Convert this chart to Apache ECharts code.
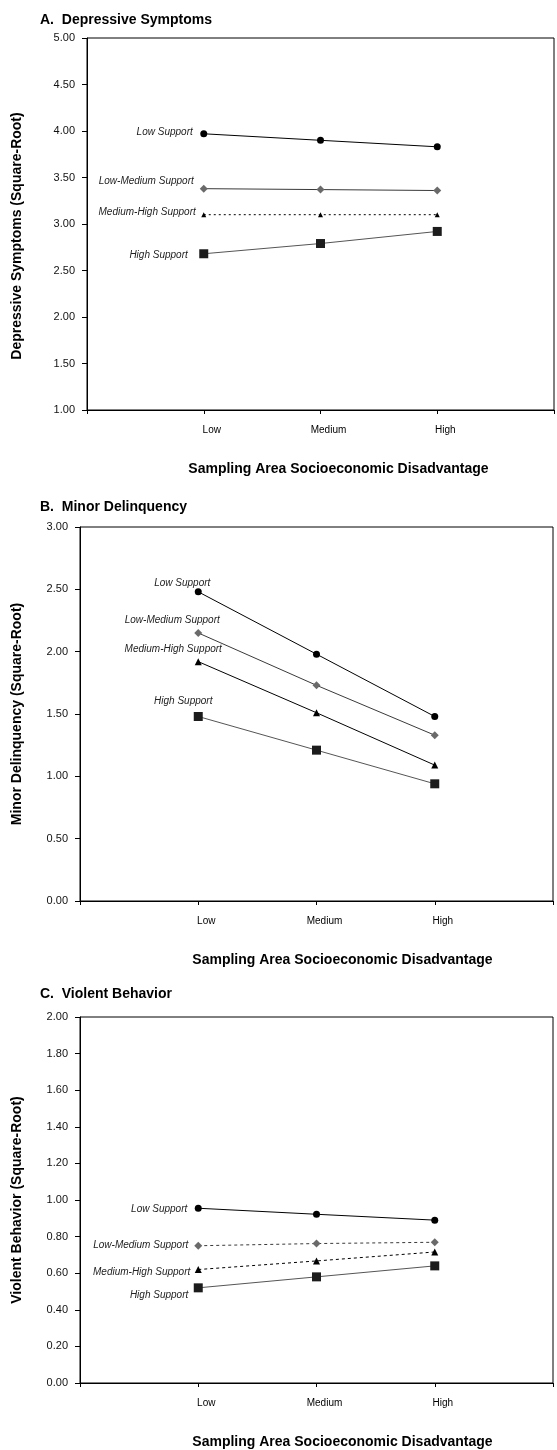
<!DOCTYPE html>
<html>
<head>
<meta charset="utf-8">
<script src="https://cdn.jsdelivr.net/npm/echarts@6/dist/echarts.min.js"></script>
<style>
html, body { margin: 0; padding: 0; background: #fff; }
#main { width: 557px; height: 1450px; }
</style>
</head>
<body>
<div id="main"></div>
<script>
// categories on the x axis and the four support groups
const categories = ['Low', 'Medium', 'High']
const groups = ['Low Support', 'Low-Medium Support', 'Medium-High Support', 'High Support']

// A. Depressive Symptoms
const depLow = [3.97, 3.90, 3.83]
const depLowMed = [3.38, 3.37, 3.36]
const depMedHigh = [3.10, 3.10, 3.10]
const depHigh = [2.68, 2.79, 2.92]

// B. Minor Delinquency
const delLow = [2.48, 1.98, 1.48]
const delLowMed = [2.15, 1.73, 1.33]
const delMedHigh = [1.92, 1.51, 1.09]
const delHigh = [1.48, 1.21, 0.94]

// C. Violent Behavior
const vioLow = [0.955, 0.922, 0.89]
const vioLowMed = [0.75, 0.762, 0.769]
const vioMedHigh = [0.62, 0.667, 0.716]
const vioHigh = [0.52, 0.58, 0.64]

const panelTitles = ['A.  Depressive Symptoms', 'B.  Minor Delinquency', 'C.  Violent Behavior']
const yNames = ['Depressive Symptoms (Square-Root)', 'Minor Delinquency (Square-Root)', 'Violent Behavior (Square-Root)']
const xName = 'Sampling Area Socioeconomic Disadvantage'

const font = 'Liberation Sans, Arial, sans-serif'

var chart = echarts.init(document.getElementById('main'))

const grids = [
    { left: 87, top: 38, width: 475, height: 372 },
    { left: 80, top: 527, width: 473, height: 374 },
    { left: 80, top: 1017, width: 473, height: 371 }
]
const yRanges = [
    { min: 1, max: 5, interval: 0.5 },
    { min: 0, max: 3, interval: 0.5 },
    { min: 0, max: 2, interval: 0.2 }
]
const titleTops = [8, 495, 982]

// marker + line look for each group
const looks = [
    { symbol: 'circle', symbolSize: 7, color: '#000', line: '#000' },
    { symbol: 'diamond', symbolSize: 8, color: '#6a6a6a', line: '#3a3a3a' },
    { symbol: 'triangle', symbolSize: 7, color: '#000', line: '#000' },
    { symbol: 'rect', symbolSize: 9, color: '#1c1c1c', line: '#555' }
]

function makeSeries(panel, gi, values, opts) {
    const look = looks[gi]
    const data = values.map((v, i) => [i + 1, v])
    const first = {
        value: data[0],
        label: {
            show: true,
            position: 'inside',
            formatter: groups[gi],
            align: opts.align || 'right',
            offset: opts.offset,
            fontFamily: font,
            fontStyle: 'italic',
            fontSize: 10,
            color: '#222'
        }
    }
    return {
        type: 'line',
        xAxisIndex: panel,
        yAxisIndex: panel,
        data: [first].concat(data.slice(1)),
        symbol: look.symbol,
        symbolSize: opts.symbolSize || look.symbolSize,
        showAllSymbol: true,
        animation: false,
        itemStyle: { color: look.color },
        lineStyle: {
            color: look.line,
            width: 1,
            type: opts.dash || 'solid'
        },
        emphasis: { disabled: true },
        z: 3
    }
}

const series = [
    makeSeries(0, 0, depLow, { offset: [-11, -2] }),
    makeSeries(0, 1, depLowMed, { offset: [-10, -7] }),
    makeSeries(0, 2, depMedHigh, { offset: [-8, -2], dash: [2, 3], symbolSize: 5 }),
    makeSeries(0, 3, depHigh, { offset: [-16, 1] }),

    makeSeries(1, 0, delLow, { offset: [-16, -9], align: 'center' }),
    makeSeries(1, 1, delLowMed, { offset: [-26, -13], align: 'center' }),
    makeSeries(1, 2, delMedHigh, { offset: [-25, -12], align: 'center' }),
    makeSeries(1, 3, delHigh, { offset: [-15, -15], align: 'center' }),

    makeSeries(2, 0, vioLow, { offset: [-11, 1] }),
    makeSeries(2, 1, vioLowMed, { offset: [-10, -1], dash: [3, 3] }),
    makeSeries(2, 2, vioMedHigh, { offset: [-8, 3], dash: [3, 3] }),
    makeSeries(2, 3, vioHigh, { offset: [-10, 7] })
]

const xAxes = grids.map((g, i) => ({
    gridIndex: i,
    type: 'value',
    min: 0,
    max: 4,
    interval: 1,
    name: xName,
    nameLocation: 'middle',
    nameGap: 52,
    nameTextStyle: {
        fontFamily: font,
        fontWeight: 'bold',
        fontSize: 14,
        color: '#000',
        padding: [0, 0, 0, i == 0 ? 36 : 52]
    },
    axisLine: { show: true, onZero: false, lineStyle: { color: '#000', width: 1 } },
    axisTick: { show: true, inside: false, length: 4, lineStyle: { color: '#000' } },
    axisLabel: {
        margin: 15,
        padding: [0, 0, 0, 16],
        fontFamily: font,
        fontSize: 10,
        color: '#000',
        formatter: function (v) { return categories[v - 1] || '' }
    },
    splitLine: { show: false }
}))

const yAxes = grids.map((g, i) => ({
    gridIndex: i,
    type: 'value',
    min: yRanges[i].min,
    max: yRanges[i].max,
    interval: yRanges[i].interval,
    name: yNames[i],
    nameLocation: 'middle',
    nameGap: g.left - 24,
    nameTextStyle: {
        fontFamily: font,
        fontWeight: 'bold',
        fontSize: 14,
        color: '#000',
        padding: i == 0 ? [0, 24, 0, 0] : 0
    },
    axisLine: { show: true, onZero: false, lineStyle: { color: '#000', width: 1 } },
    axisTick: { show: true, inside: false, length: 5, lineStyle: { color: '#000' } },
    axisLabel: {
        margin: 12,
        fontFamily: font,
        fontSize: 11,
        color: '#111',
        formatter: function (v) { return v.toFixed(2) }
    },
    splitLine: { show: false }
}))

const option = {
    backgroundColor: '#fff',
    animation: false,
    title: panelTitles.map((t, i) => ({
        text: t,
        left: 35,
        top: titleTops[i],
        textStyle: { fontFamily: font, fontWeight: 'bold', fontSize: 14, color: '#000' }
    })),
    grid: grids.map(g => Object.assign({ show: true, borderColor: '#000', borderWidth: 1, backgroundColor: 'transparent' }, g)),
    xAxis: xAxes,
    yAxis: yAxes,
    series: series
}

option && chart.setOption(option)
</script>
</body>
</html>
